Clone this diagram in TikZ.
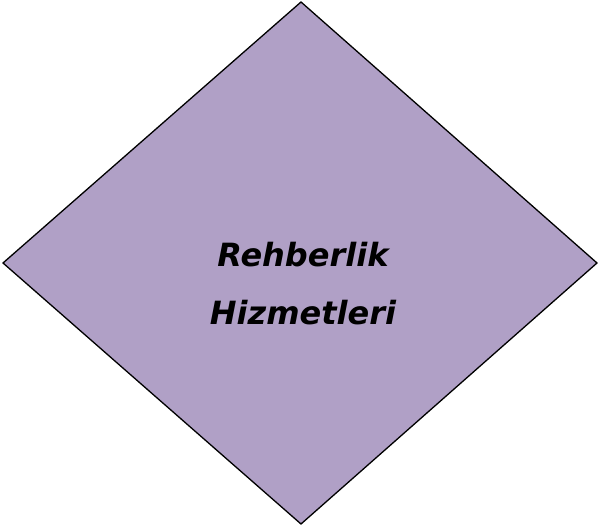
\documentclass[tikz,border=0pt]{standalone}
\usepackage{fontspec}
\setmainfont{DejaVu Sans}
\definecolor{lilac}{RGB}{176,160,198}
\begin{document}
\begin{tikzpicture}[x=1pt,y=1pt,
  shapefill/.style={fill=lilac,draw=black,line width=1.3pt,line join=miter},
  labeltext/.style={font=\fontsize{32}{58}\selectfont\bfseries\itshape,align=center,text=black}]
\useasboundingbox (0,0) rectangle (598,529);
\coordinate (top) at (301,527);
\coordinate (left) at (3,266);
\coordinate (bottom) at (301,5);
\coordinate (right) at (597,266);
\draw[shapefill] (top) -- (left) -- (bottom) -- (right) -- cycle;
\node[labeltext] (lbl) at (303,245) {Rehberlik\\Hizmetleri};
\end{tikzpicture}
\end{document}
